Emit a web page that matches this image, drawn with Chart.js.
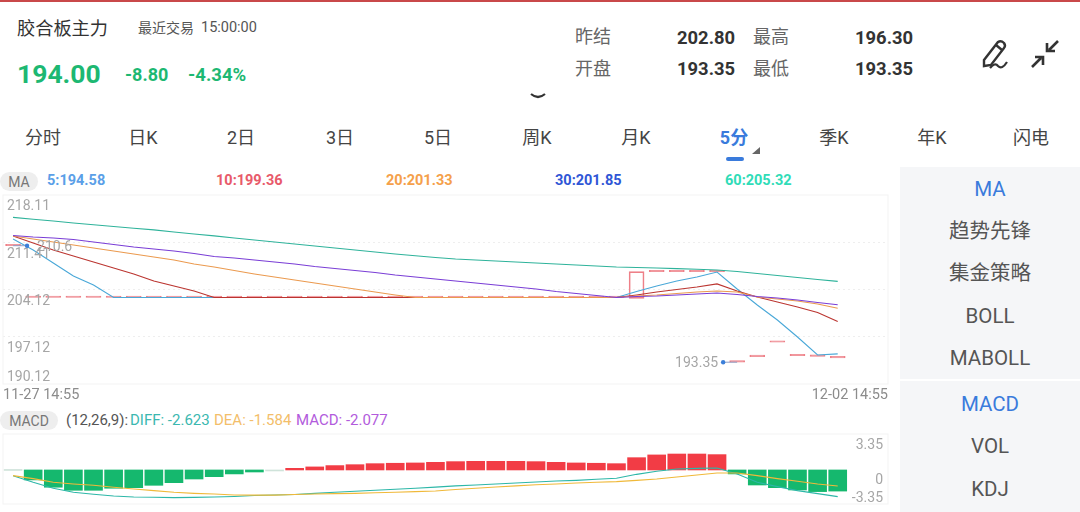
<!DOCTYPE html>
<html lang="zh">
<head>
<meta charset="utf-8">
<title>胶合板主力</title>
<script src="https://cdn.jsdelivr.net/npm/chart.js@4"></script>
<style>
    * { margin: 0; padding: 0; box-sizing: border-box; }
    html, body { width: 1080px; height: 512px; background: #fff; overflow: hidden; }
    body { position: relative; font-family: Roboto, "Noto Sans CJK SC", sans-serif; color: #444; }
    .t { position: absolute; white-space: nowrap; line-height: 1; transform: translateY(-50%); }
    .c { transform: translate(-50%, -50%); }
    .green { color: #1db872; font-weight: 700; }
    .val { font-size: 18.4px; font-weight: 700; color: #333; }
    .cut { width: 59px; overflow: hidden; }
    .lab { font-size: 18px; color: #666; }
    .tab { font-size: 18px; color: #444; }
    .side { font-size: 20.5px; color: #555; }
    .blue { color: #3a7bdc; }
    .ma { font-size: 14.5px; font-weight: 700; }
    .pill { position: absolute; left: 0; background: #eeeeee; border-radius: 10px; color: #777; font-size: 14px;
            display: flex; align-items: center; justify-content: center; }
    .panel { position: absolute; left: 900px; width: 180px; background: #f5f6f8; }
    canvas { position: absolute; left: 0; }
    svg { position: absolute; left: 0; top: 0; }
</style>
</head>
<body>
<div style="position:absolute;left:0;top:0;width:1080px;height:1.5px;background:#c9484a"></div>

<div class="t" style="left:17px;top:29px;font-size:18.2px;color:#333">胶合板主力</div>
<div class="t" style="left:138px;top:28px;font-size:14px;color:#555">最近交易</div>
<div class="t" style="left:201px;top:28px;font-size:14.5px;color:#555">15:00:00</div>
<div class="t green" style="left:17px;top:74px;font-size:26.5px">194.00</div>
<div class="t green" style="left:125px;top:75px;font-size:18px">-8.80</div>
<div class="t green" style="left:188px;top:75px;font-size:18.5px">-4.34%</div>

<div class="t lab" style="left:575px;top:37px">昨结</div>
<div class="t val" style="left:677px;top:38px">202.80</div>
<div class="t lab" style="left:753px;top:37px">最高</div>
<div class="t val cut" style="left:855px;top:38px">196.30</div>
<div class="t lab" style="left:575px;top:69px">开盘</div>
<div class="t val" style="left:677px;top:69px">193.35</div>
<div class="t lab" style="left:753px;top:69px">最低</div>
<div class="t val cut" style="left:855px;top:69px">193.35</div>

<div class="t tab c" style="left:43px;top:138px">分时</div>
<div class="t tab c" style="left:143px;top:138px">日K</div>
<div class="t tab c" style="left:241px;top:138px">2日</div>
<div class="t tab c" style="left:340px;top:138px">3日</div>
<div class="t tab c" style="left:438px;top:138px">5日</div>
<div class="t tab c" style="left:537px;top:138px">周K</div>
<div class="t tab c" style="left:636px;top:138px">月K</div>
<div class="t tab c blue" style="left:734px;top:138px;font-weight:700">5分</div>
<div class="t tab c" style="left:834px;top:138px">季K</div>
<div class="t tab c" style="left:932px;top:138px">年K</div>
<div class="t tab c" style="left:1031px;top:138px">闪电</div>

<svg width="1080" height="170" fill="none">
    <path d="M531 94 Q538 100 545 94" stroke="#333" stroke-width="2.2"/>
    <rect x="726" y="157" width="18" height="4" rx="2" fill="#3a7bdc"/>
    <path d="M760 147 V154 H752 Z" fill="#666"/>
    <path d="M984 60 L998 42 Q1001 40 1004 43 Q1006 46 1004 48 L991 65 L984 66 Z M996 45 L1002 50" stroke="#333" stroke-width="2.4"/>
    <path d="M990 68 Q995 62 998 66 Q1002 70 1007 62" stroke="#333" stroke-width="2.2"/>
    <path d="M1058 41 L1049 50 M1047 43 V51 H1055" stroke="#333" stroke-width="2.6"/>
    <path d="M1032 67 L1041 58 M1035 57 H1043 V65" stroke="#333" stroke-width="2.6"/>
</svg>

<div class="panel" style="top:167px;height:212px"></div>
<div class="panel" style="top:381px;height:131px"></div>
<div class="t side c blue" style="left:990px;top:189px">MA</div>
<div class="t side c" style="left:990px;top:231px">趋势先锋</div>
<div class="t side c" style="left:990px;top:273px">集金策略</div>
<div class="t side c" style="left:990px;top:316px">BOLL</div>
<div class="t side c" style="left:990px;top:358px">MABOLL</div>
<div class="t side c blue" style="left:990px;top:404px">MACD</div>
<div class="t side c" style="left:990px;top:446px">VOL</div>
<div class="t side c" style="left:990px;top:489px">KDJ</div>

<div class="pill" style="top:172px;width:38px;height:19px">MA</div>
<div class="t ma" style="left:47px;top:181px;color:#5b9fe8">5:194.58</div>
<div class="t ma" style="left:216px;top:181px;color:#e85a6a">10:199.36</div>
<div class="t ma" style="left:386px;top:181px;color:#f5a04a">20:201.33</div>
<div class="t ma" style="left:555px;top:181px;color:#2f56d6">30:201.85</div>
<div class="t ma" style="left:725px;top:181px;color:#30dcb8">60:205.32</div>

<div class="pill" style="top:411px;width:58px;height:19px">MACD</div>
<div class="t" style="left:66px;top:420px;font-size:15px;color:#555">(12,26,9):</div>
<div class="t" style="left:130px;top:420px;font-size:15px;color:#3bb8b0">DIFF: -2.623</div>
<div class="t" style="left:214px;top:420px;font-size:15px;color:#f3be6a">DEA: -1.584</div>
<div class="t" style="left:296px;top:420px;font-size:15px;color:#b25bdc">MACD: -2.077</div>

<canvas id="mainChart" style="top:190px" width="900" height="214"></canvas>
<canvas id="macdChart" style="top:430px" width="900" height="80"></canvas>

<script>
// Bars, 5 minute, the last two slots are empty
const categories = [0, 1, 2, 3, 4, 5, 6, 7, 8, 9, 10, 11, 12, 13, 14, 15, 16, 17, 18, 19, 20, 21,
    22, 23, 24, 25, 26, 27, 28, 29, 30, 31, 32, 33, 34, 35, 36, 37, 38, 39, 40, 41, 42, 43];

// Candles
const candleOpen = [210.6, 202.93, 202.93, 202.93, 202.93, 202.93, 202.93, 202.93, 202.93, 202.93, 202.93,
    202.93, 202.93, 202.93, 202.93, 202.93, 202.93, 202.93, 202.93, 202.93, 202.93,
    202.93, 202.93, 202.93, 202.93, 202.93, 202.93, 202.93, 202.93, 202.93, 202.93,
    202.8, 206.75, 206.75, 206.75, 206.75, 193.35, 194.17, 196.3, 194.3, 194.2, 194.0];
const candleClose = [210.6, 202.93, 202.93, 202.93, 202.93, 202.93, 202.93, 202.93, 202.93, 202.93, 202.93,
    202.93, 202.93, 202.93, 202.93, 202.93, 202.93, 202.93, 202.93, 202.93, 202.93,
    202.93, 202.93, 202.93, 202.93, 202.93, 202.93, 202.93, 202.93, 202.93, 202.93,
    206.76, 206.75, 206.75, 206.75, 206.75, 193.35, 194.17, 196.3, 194.3, 194.2, 194.0];

// Moving averages
const ma5 = [211.6, 209.97, 208.05, 206.12, 204.79, 202.93, 202.93, 202.93, 202.93, 202.93, 202.93,
    202.93, 202.93, 202.93, 202.93, 202.93, 202.93, 202.93, 202.93, 202.93, 202.93,
    202.93, 202.93, 202.93, 202.93, 202.93, 202.93, 202.93, 202.93, 202.93, 202.93,
    203.82, 204.64, 205.38, 205.97, 206.71, 204.19, 201.82, 199.6, 197.08, 194.42, 194.58];
const ma10 = [212.05, 211.01, 209.97, 209.08, 208.19, 207.31, 206.42, 205.38, 204.64, 203.9, 202.93,
    202.93, 202.93, 202.93, 202.93, 202.93, 202.93, 202.93, 202.93, 202.93, 202.93,
    202.93, 202.93, 202.93, 202.93, 202.93, 202.93, 202.93, 202.93, 202.93, 202.93,
    203.31, 203.75, 204.12, 204.49, 204.94, 203.9, 203.01, 202.27, 201.53, 200.71, 199.36];
const ma20 = [212.05, 211.6, 211.16, 210.71, 210.27, 209.82, 209.38, 208.94, 208.49, 207.9, 207.45,
    206.93, 206.42, 205.97, 205.53, 205.08, 204.64, 204.19, 203.75, 203.31, 202.93,
    202.93, 202.93, 202.93, 202.93, 202.93, 202.93, 202.93, 202.93, 202.93, 202.93,
    203.16, 203.31, 203.53, 203.75, 203.9, 203.75, 203.01, 202.71, 202.42, 201.97, 201.33];
const ma30 = [212.12, 211.9, 211.75, 211.53, 211.16, 210.79, 210.42, 210.12, 209.82, 209.45, 209.01,
    208.79, 208.49, 208.19, 207.9, 207.53, 207.23, 206.93, 206.64, 206.27, 205.97,
    205.68, 205.38, 205.08, 204.79, 204.49, 204.19, 203.82, 203.53, 203.23, 202.93,
    203.08, 203.16, 203.31, 203.45, 203.6, 203.38, 203.08, 202.86, 202.56, 202.19, 201.85];
const ma60 = [214.79, 214.52, 214.25, 213.97, 213.71, 213.45, 213.19, 212.94, 212.64, 212.34, 212.05,
    211.75, 211.45, 211.16, 210.86, 210.56, 210.27, 209.97, 209.68, 209.38, 209.11,
    208.86, 208.64, 208.49, 208.34, 208.19, 208.05, 207.9, 207.75, 207.6, 207.45,
    207.38, 207.31, 207.2, 207.11, 207.01, 206.79, 206.49, 206.19, 205.9, 205.6, 205.32];

// MACD panel
const macdBars = [0, -0.98, -1.7, -2.0, -2.0, -1.8, -1.74, -1.51, -1.25, -0.89, -0.66, -0.39, -0.2, -0.03,
    0.16, 0.3, 0.43, 0.52, 0.62, 0.66, 0.69, 0.75, 0.82, 0.85, 0.85, 0.85, 0.82, 0.75, 0.69, 0.66, 0.62,
    1.21, 1.48, 1.57, 1.57, 1.51, -0.39, -1.48, -1.74, -1.97, -2.13, -2.077];
const diffLine = [-0.56, -1.21, -1.8, -2.2, -2.39, -2.56, -2.66, -2.69, -2.72, -2.7, -2.66, -2.61, -2.52, -2.46,
    -2.41, -2.3, -2.2, -2.1, -2.0, -1.9, -1.8, -1.69, -1.57, -1.48, -1.38, -1.28, -1.18, -1.08, -1.02, -0.92, -0.82,
    -0.43, -0.13, 0.1, 0.16, 0.2, -0.39, -1.21, -1.64, -2.03, -2.33, -2.623];
const deaLine = [-0.56, -0.85, -1.21, -1.38, -1.51, -1.7, -1.87, -2.03, -2.2, -2.3, -2.36, -2.46, -2.48, -2.48,
    -2.41, -2.36, -2.33, -2.3, -2.25, -2.2, -2.13, -2.07, -1.93, -1.8, -1.67, -1.57, -1.46, -1.38, -1.28, -1.21, -1.15,
    -1.02, -0.89, -0.69, -0.49, -0.3, -0.3, -0.56, -0.85, -1.11, -1.38, -1.584];

// Axis text
const priceGrid = [197.12, 204.12, 211.12];
const priceLabels = ['218.11', '211.41', '204.12', '197.12', '190.12'];
const priceLabelAt = [216.45, 209.3, 202.4, 195.4, 191.05];
const startTime = '11-27 14:55';
const endTime = '12-02 14:55';
const macdLabels = ['3.35', '0', '-3.35'];
const macdLabelAt = [2.45, -1.0, -2.8];

// Extremes marked on the price chart
const highMark = { index: 0, value: 210.6, text: '210.6' };
const lowMark = { index: 36, value: 193.35, text: '193.35' };

const labelFont = '14px Roboto, "Noto Sans CJK SC", sans-serif';

function lineSet(data, color) {
    return { type: 'line', data, borderColor: color, borderWidth: 1.1, pointRadius: 0, tension: 0, order: 1 };
}

const hiddenAxis = { ticks: { display: false }, grid: { display: false, drawTicks: false }, border: { display: false } };

function drawBox(chart) {
    const { ctx, chartArea: a } = chart;
    ctx.strokeStyle = '#f3f3f3';
    ctx.lineWidth = 1;
    ctx.strokeRect(a.left, a.top, a.right - a.left, a.bottom - a.top);
}

const priceText = {
    id: 'priceText',
    afterDraw(chart) {
        const { ctx, chartArea: a, scales: { x, y } } = chart;
        ctx.save();
        drawBox(chart);
        ctx.font = labelFont;
        ctx.textBaseline = 'middle';
        ctx.fillStyle = '#a6a6a6';
        ctx.textAlign = 'left';
        priceLabels.forEach((t, i) => ctx.fillText(t, 7, y.getPixelForValue(priceLabelAt[i])));

        ctx.font = '14.5px Roboto, "Noto Sans CJK SC", sans-serif';
        ctx.fillStyle = '#8c8c8c';
        ctx.fillText(startTime, 3, a.bottom + 11);
        ctx.textAlign = 'right';
        ctx.fillText(endTime, a.right, a.bottom + 11);

        // High and low marks
        ctx.font = labelFont;
        const hx = x.getPixelForValue(highMark.index) + 14;
        const hy = y.getPixelForValue(highMark.value);
        const lx = x.getPixelForValue(lowMark.index) - 14;
        const ly = y.getPixelForValue(lowMark.value);
        ctx.strokeStyle = '#8f9fc6';
        ctx.beginPath();
        ctx.moveTo(hx - 14, hy); ctx.lineTo(hx, hy);
        ctx.moveTo(lx, ly); ctx.lineTo(lx + 14, ly);
        ctx.stroke();
        ctx.fillStyle = '#3b7fd9';
        ctx.beginPath(); ctx.arc(hx, hy, 2.2, 0, Math.PI * 2); ctx.fill();
        ctx.beginPath(); ctx.arc(lx, ly, 2.2, 0, Math.PI * 2); ctx.fill();
        ctx.fillStyle = '#a6a6a6';
        ctx.fillText(lowMark.text, lx - 5, ly + 1);
        ctx.textAlign = 'left';
        ctx.fillText(highMark.text, hx + 10, hy + 2);
        ctx.restore();
    }
};

const macdText = {
    id: 'macdText',
    afterDraw(chart) {
        const { ctx, scales: { y } } = chart;
        ctx.save();
        drawBox(chart);
        ctx.font = labelFont;
        ctx.textBaseline = 'middle';
        ctx.textAlign = 'right';
        ctx.fillStyle = '#a6a6a6';
        macdLabels.forEach((t, i) => ctx.fillText(t, 883, y.getPixelForValue(macdLabelAt[i])));
        ctx.restore();
    }
};

// Datasets listed first are drawn on top
new Chart(document.getElementById('mainChart'), {
    data: {
        labels: categories,
        datasets: [
            {
                type: 'bar',
                data: candleOpen.map((o, i) => [o, candleClose[i]]),
                backgroundColor: (c) => (candleOpen[c.dataIndex] === candleClose[c.dataIndex] ? '#ee8088' : 'rgba(255,255,255,0)'),
                borderColor: '#ee8088',
                borderWidth: 1,
                borderSkipped: false,
                minBarLength: 1.5,
                barThickness: 15,
                order: 2
            },
            lineSet(ma60, '#2fb39b'),
            lineSet(ma30, '#7a3ed6'),
            lineSet(ma20, '#eb9a4f'),
            lineSet(ma10, '#bb3530'),
            lineSet(ma5, '#4aa8d8')
        ]
    },
    options: {
        responsive: false,
        animation: false,
        layout: { padding: { left: 3, right: 12, top: 5, bottom: 20 } },
        plugins: { legend: { display: false }, tooltip: { enabled: false } },
        scales: {
            x: { ...hiddenAxis, offset: true },
            y: {
                min: 190.12,
                max: 218.11,
                afterBuildTicks: (axis) => { axis.ticks = priceGrid.map(value => ({ value })); },
                ticks: { display: false },
                grid: { color: '#eeeeee', drawTicks: false },
                border: { display: false, dash: [2, 3] }
            }
        }
    },
    plugins: [priceText]
});

new Chart(document.getElementById('macdChart'), {
    data: {
        labels: categories,
        datasets: [
            {
                type: 'bar',
                data: macdBars,
                backgroundColor: (c) => {
                    const v = c.parsed ? c.parsed.y : 0;
                    if (Math.abs(v) < 0.05) return '#cfe3da';
                    return v > 0 ? '#f23c45' : '#15b86e';
                },
                minBarLength: 1,
                barThickness: 18,
                order: 2
            },
            lineSet(deaLine, '#f0b93a'),
            lineSet(diffLine, '#2db7a8')
        ]
    },
    options: {
        responsive: false,
        animation: false,
        layout: { padding: { left: 3, right: 12, top: 4, bottom: 6 } },
        plugins: { legend: { display: false }, tooltip: { enabled: false } },
        scales: {
            x: { ...hiddenAxis, offset: true },
            y: { ...hiddenAxis, min: -3.35, max: 3.54 }
        }
    },
    plugins: [macdText]
});
</script>
</body>
</html>
